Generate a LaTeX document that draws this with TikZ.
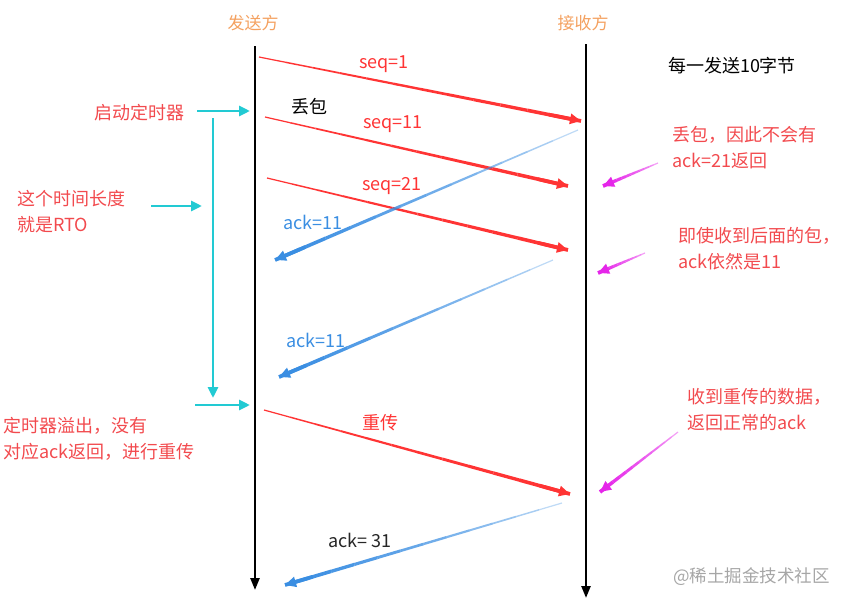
\documentclass[tikz,border=0pt]{standalone}
\usepackage{fontspec}
\setmainfont{Noto Sans CJK SC}
\usepackage{xcolor}
\usetikzlibrary{positioning,arrows.meta,calc}

\definecolor{msgred}{HTML}{FF3434}
\definecolor{notered}{HTML}{F24A4E}
\definecolor{ackblue}{HTML}{3A8EE2}
\definecolor{timecyan}{HTML}{22CAD3}
\definecolor{hintpink}{HTML}{E526E9}
\definecolor{sideorange}{HTML}{F4A160}

% message arrow: thin and faint at the start, thick at the head
\newcommand\msgarrow[4]{%
  \foreach \k in {1,...,12}{
    \pgfmathsetmacro\ta{(\k-1)/12}
    \pgfmathsetmacro\tb{\k/12}
    \pgfmathsetmacro\op{#4+(1-#4)*sqrt(\k/12)}
    \draw[#3, line width={(1.0+2.8*\k/12)*1pt}, draw opacity=\op]
      ($(#1)!\ta!(#2)$) -- ($(#1)!\tb!(#2)$);
  }
  \draw[#3, line width=3.6pt, -{Triangle[length=11pt,width=10pt]}]
    ($(#1)!0.9!(#2)$) -- (#2);
}

\tikzset{
  lifeline/.style={line width=2.4pt, -{Triangle[length=12pt,width=9pt]}},
  timer/.style={timecyan, line width=2.8pt, -{Triangle[length=11pt,width=10pt]}},
  side/.style={sideorange, font=\fontsize{17}{20}\selectfont},
  note/.style={notered, align=left, anchor=west, inner sep=0pt,
    font=\fontsize{18}{26}\selectfont},
  lbl/.style={inner sep=0pt, font=\fontsize{18}{20}\selectfont},
}

\begin{document}
\begin{tikzpicture}[x=1pt, y=-1pt]
  \useasboundingbox (0,0) rectangle (846,605);

  % sides
  \node[side] (snd) at (253,23) {发送方};
  \node[side] (rcv) at (583,23) {接收方};
  \coordinate (sndtop) at (255,46);
  \coordinate (sndbot) at (255,590);
  \coordinate (rcvtop) at (586,44);
  \coordinate (rcvbot) at (586,598);
  \draw[lifeline] (sndtop) -- (sndbot);
  \draw[lifeline] (rcvtop) -- (rcvbot);
  \node[lbl] (size) at (732,66) {每一发送10字节};

  % data and acks
  \coordinate (seqa) at (259,57);   \coordinate (seqA) at (581,121);
  \coordinate (seqb) at (265,117);  \coordinate (seqB) at (568,186);
  \coordinate (seqc) at (267,178);  \coordinate (seqC) at (568,250);
  \coordinate (acka) at (578,130);  \coordinate (ackA) at (275,260);
  \coordinate (ackb) at (553,260);  \coordinate (ackB) at (279,377);
  \coordinate (resd) at (264,410);  \coordinate (resD) at (570,494);
  \coordinate (ackc) at (562,503);  \coordinate (ackC) at (285,585);

  \msgarrow{seqa}{seqA}{msgred}{1}
  \msgarrow{seqb}{seqB}{msgred}{1}
  \msgarrow{seqc}{seqC}{msgred}{1}
  \msgarrow{acka}{ackA}{ackblue}{0.05}
  \msgarrow{ackb}{ackB}{ackblue}{0.05}
  \msgarrow{resd}{resD}{msgred}{1}
  \msgarrow{ackc}{ackC}{ackblue}{0.05}

  \node[lbl, msgred] (seq1) at (384,64) {seq=1};
  \node[lbl] (lost) at (309,107) {丢包};
  \node[lbl, msgred] (seq11) at (393,124) {seq=11};
  \node[lbl, msgred] (seq21) at (392,186) {seq=21};
  \node[lbl, ackblue] (ack11a) at (313,222) {ack=11};
  \node[lbl, ackblue] (ack11b) at (316,340) {ack=11};
  \node[lbl, msgred] (resend) at (380,423) {重传};
  \node[lbl, black!85] (ack31) at (360,540) {ack= 31};

  % timer on the sender side
  \node[note, anchor=east] (start) at (185,113) {启动定时器};
  \node[note] (rto) at (17,212) {这个时间长度\\就是RTO};
  \node[note] (over) at (3,439) {定时器溢出，没有\\对应ack返回，进行重传};
  \coordinate (starta) at (197,111);  \coordinate (startb) at (250,111);
  \coordinate (spana) at (213,118);   \coordinate (spanb) at (213,398);
  \coordinate (rtoa) at (151,206);    \coordinate (rtob) at (202,206);
  \coordinate (overa) at (195,405);   \coordinate (overb) at (250,405);
  \draw[timer] (starta) -- (startb);
  \draw[timer] (spana) -- (spanb);
  \draw[timer] (rtoa) -- (rtob);
  \draw[timer] (overa) -- (overb);

  % notes on the receiver side
  \node[note] (noack) at (672,148) {丢包，因此不会有\\ack=21返回};
  \node[note] (still) at (678,249) {即使收到后面的包，\\ack依然是11};
  \node[note] (normal) at (687,410) {收到重传的数据，\\返回正常的ack};
  \coordinate (hinta) at (658,163);  \coordinate (hintA) at (603,186);
  \coordinate (hintb) at (645,253);  \coordinate (hintB) at (598,273);
  \coordinate (hintc) at (678,432);  \coordinate (hintC) at (600,492);
  \msgarrow{hinta}{hintA}{hintpink}{0.2}
  \msgarrow{hintb}{hintB}{hintpink}{0.2}
  \msgarrow{hintc}{hintC}{hintpink}{0.2}

  \node[lbl, gray!70, anchor=east, font=\fontsize{17.5}{20}\selectfont]
    (mark) at (830,577) {@稀土掘金技术社区};
\end{tikzpicture}
\end{document}
